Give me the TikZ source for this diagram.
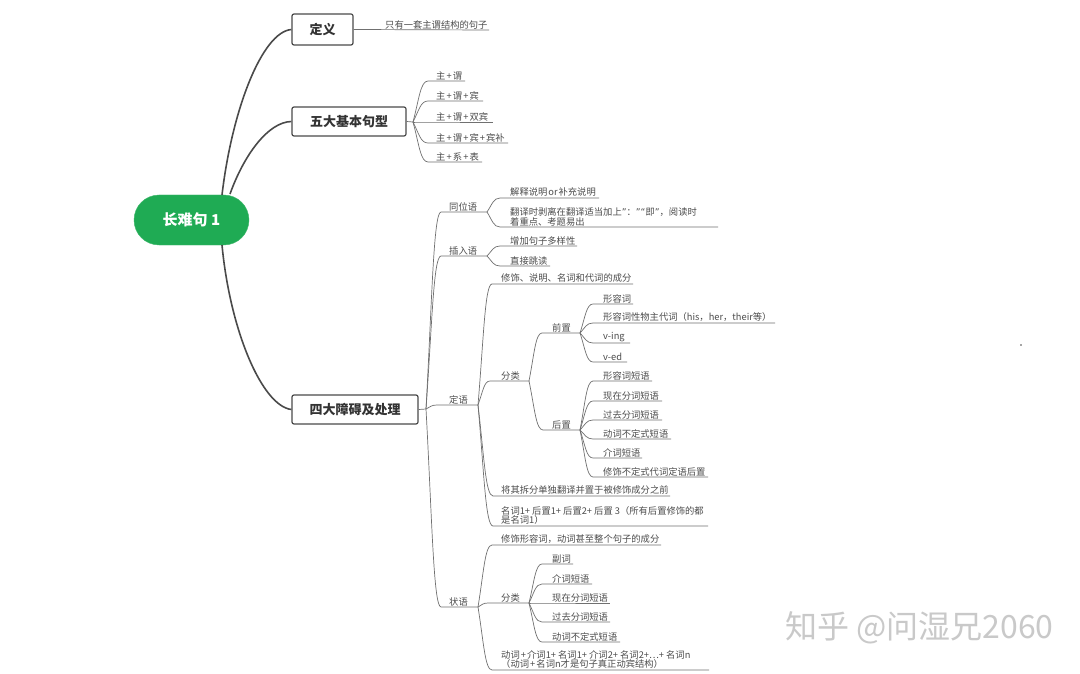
\documentclass[tikz,border=0pt]{standalone}
\usepackage{fontspec}
\setmainfont{Noto Sans CJK SC}
\newfontfamily\quotefont{DejaVu Sans}
\usetikzlibrary{calc}
\definecolor{pillgreen}{HTML}{1FAB54}
\definecolor{darkline}{HTML}{4A4A4A}
\definecolor{thinline}{HTML}{707070}
\definecolor{txt}{HTML}{4C4C4C}
\definecolor{mark}{HTML}{C9C9C9}
\newcommand{\pl}{\hspace{1.1pt}+\hspace{1.1pt}}
\newcommand{\opq}{{\quotefont “}}
\newcommand{\clq}{{\quotefont ”}}
\tikzset{
  pill/.style={draw=pillgreen!85!white,fill=pillgreen,rounded corners=25pt,minimum width=115pt,minimum height=50pt,inner sep=0pt,text=white,font=\fontsize{15}{16}\selectfont\bfseries},
  topicbox/.style={draw=darkline,line width=1.2pt,fill=white,rounded corners=2pt,inner sep=0pt,text=black!80,font=\fontsize{13}{14}\selectfont\bfseries},
  mainlink/.style={draw=darkline,line width=1.6pt},
  thinlink/.style={draw=thinline,line width=.7pt},
  leaftext/.style={anchor=south west,inner sep=0pt,text=txt,align=left,font=\fontsize{9.3}{9.6}\selectfont},
}
% name, parent, x start, x end, y, text x, text
\newcommand{\leafline}[7]{%
  \coordinate (#1-a) at (#3,#5);
  \coordinate (#1-b) at (#4,#5);
  \node[leaftext] (#1) at (#6,#5-1) {#7};
  \draw[thinlink] let \p1=(#2), \p2=(#1-a) in (#2)
    .. controls ({\x1+.4*(\x2-\x1)},{\y1+.55*(\y2-\y1)}) and ({\x1+.5*(\x2-\x1)},{\y2}) .. (#1-a) -- (#1-b);
}
\begin{document}
\begin{tikzpicture}[x=1pt,y=-1pt]
\useasboundingbox (0,0) rectangle (1080,674);
\fill[white] (0,0) rectangle (1080,674);

\node[pill] (root) at (191.5,220) {长难句 1};
\node[topicbox,minimum width=61pt,minimum height=31pt] (def) at (322.5,29.5) {定义};
\node[topicbox,minimum width=114pt,minimum height=29pt] (five) at (349,121.5) {五大基本句型};
\node[topicbox,minimum width=126pt,minimum height=29pt] (four) at (355,409.5) {四大障碍及处理};

\coordinate (r1) at (222,195);
\coordinate (r2) at (230,194);
\coordinate (r3) at (222,245);
\draw[mainlink] (r1) .. controls (232,110) and (262,32) .. (def.west);
\draw[mainlink] (r2) .. controls (244,155) and (268,122) .. (five.west);
\draw[mainlink] (r3) .. controls (230,330) and (262,406) .. (four.west);

% definition
\coordinate (defend) at (489,30);
\draw[thinlink] (def.east) -- (defend);
\node[leaftext] (deftext) at (385,29) {只有一套主谓结构的句子};

% five patterns
\coordinate (hfive) at (413,122);
\draw[thinlink] (five.east) -- (hfive);
\leafline{p1}{hfive}{428}{465}{81}{436}{主\pl 谓}
\leafline{p2}{hfive}{428}{483}{101}{436}{主\pl 谓\pl 宾}
\leafline{p3}{hfive}{428}{493}{122}{436}{主\pl 谓\pl 双宾}
\leafline{p4}{hfive}{428}{508}{143}{436}{主\pl 谓\pl 宾\pl 宾补}
\leafline{p5}{hfive}{428}{482}{162}{436}{主\pl 系\pl 表}

% four obstacles
\coordinate (hfour) at (426,409);
\draw[thinlink] (four.east) -- (hfour);

\leafline{tw}{hfour}{441}{487}{212}{449}{同位语}
\coordinate (htw) at (487,212);
\leafline{tw1}{htw}{500}{599}{198}{510}{解释说明\hspace{1pt}or\hspace{1pt}补充说明}
\leafline{tw2}{htw}{500}{718}{227}{510}{翻译时剥离在翻译适当加上\clq：\clq\opq 即\clq，阅读时\\着重点、考题易出}

\leafline{cr}{hfour}{441}{487}{256}{449}{插入语}
\coordinate (hcr) at (487,256);
\leafline{cr1}{hcr}{500}{577}{246}{510}{增加句子多样性}
\leafline{cr2}{hcr}{500}{550}{266}{510}{直接跳读}

\leafline{dy}{hfour}{437}{478}{405}{449}{定语}
\coordinate (hdy) at (478,405);
\leafline{dy1}{hdy}{492}{633}{284}{501}{修饰、说明、名词和代词的成分}
\leafline{dyf}{hdy}{490}{529}{381}{501}{分类}
\coordinate (hdyf) at (529,381);
\leafline{qz}{hdyf}{542}{580}{333}{552}{前置}
\coordinate (hqz) at (580,333);
\leafline{qz1}{hqz}{593}{633}{304}{603}{形容词}
\leafline{qz2}{hqz}{593}{775}{323}{603}{形容词性物主代词（his，her，their等）}
\leafline{qz3}{hqz}{593}{630}{343}{603}{v-ing}
\leafline{qz4}{hqz}{593}{627}{362}{603}{v-ed}
\leafline{hz}{hdyf}{543}{580}{430}{552}{后置}
\coordinate (hhz) at (580,430);
\leafline{hz1}{hhz}{593}{652}{381}{603}{形容词短语}
\leafline{hz2}{hhz}{593}{662}{401}{603}{现在分词短语}
\leafline{hz3}{hhz}{593}{662}{420}{603}{过去分词短语}
\leafline{hz4}{hhz}{593}{671}{439}{603}{动词不定式短语}
\leafline{hz5}{hhz}{593}{642}{458}{603}{介词短语}
\leafline{hz6}{hhz}{593}{708}{477}{603}{修饰不定式代词定语后置}
\leafline{dy3}{hdy}{493}{670}{496}{501}{将其拆分单独翻译并置于被修饰成分之前}
\leafline{dy4}{hdy}{493}{708}{526}{501}{名词1+ 后置1+ 后置2+ 后置 3（所有后置修饰的都\\是名词1）}

\leafline{zy}{hfour}{441}{478}{607}{449}{状语}
\coordinate (hzy) at (478,607);
\leafline{zy1}{hzy}{492}{661}{545}{501}{修饰形容词，动词甚至整个句子的成分}
\leafline{zyf}{hzy}{488}{529}{603}{501}{分类}
\coordinate (hzyf) at (529,603);
\leafline{zf1}{hzyf}{542}{573}{564}{552}{副词}
\leafline{zf2}{hzyf}{542}{592}{584}{552}{介词短语}
\leafline{zf3}{hzyf}{542}{610}{603}{552}{现在分词短语}
\leafline{zf4}{hzyf}{542}{610}{622}{552}{过去分词短语}
\leafline{zf5}{hzyf}{542}{620}{642}{552}{动词不定式短语}
\leafline{zy3}{hzy}{492}{709}{670}{501}{动词\pl 介词1+ 名词1+ 介词2+ 名词2+…+ 名词n\\（动词\pl 名词n才是句子真正动宾结构）}

% stray dot and watermark
\fill[black!70] (1021,345) circle (.8);
\node[anchor=west,inner sep=0pt,text=mark,font=\fontsize{32}{33}\selectfont] (wm) at (785,628) {知乎 @问湿兄2060};
\end{tikzpicture}
\end{document}
